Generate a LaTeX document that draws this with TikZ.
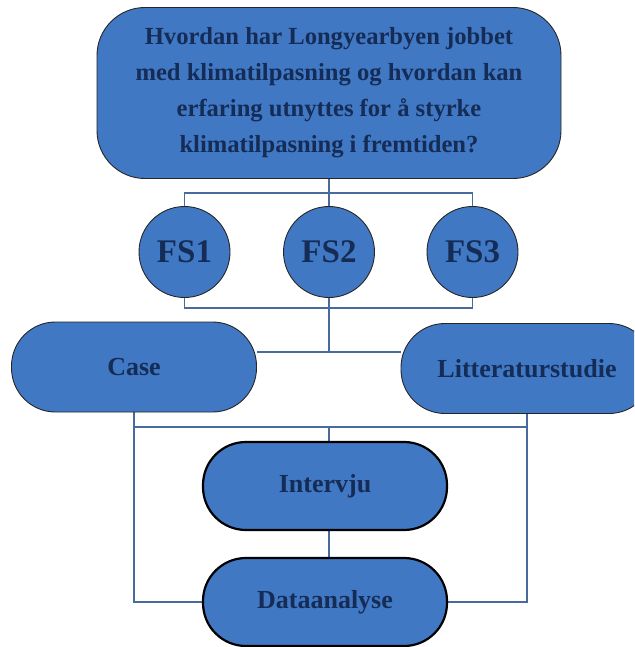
\documentclass[tikz,border=0pt]{standalone}
\usepackage{fontspec}
\setmainfont{Liberation Serif}
\usepackage{xcolor}
\pgfdeclarelayer{bg}
\pgfsetlayers{bg,main}
\definecolor{boxfill}{RGB}{65,120,196}
\definecolor{boxtext}{RGB}{20,44,86}
\definecolor{linkcol}{RGB}{72,106,156}

\begin{document}
\begin{tikzpicture}[x=1pt, y=-1pt,
		box/.style={draw=black!85, line width=0.9pt, fill=boxfill, text=boxtext, inner sep=0pt, align=center, font=\bfseries\fontsize{26}{30}\selectfont},
		pill/.style={box, rounded corners=44pt, minimum width=245pt, minimum height=90pt},
		boldpill/.style={pill, draw=black, line width=2.2pt, rounded corners=43pt, minimum width=244pt, minimum height=88pt},
		fs/.style={box, circle, minimum size=91pt, font=\bfseries\fontsize{33}{36}\selectfont},
		link/.style={draw=linkcol, line width=1.3pt}]
		\useasboundingbox (0,0) rectangle (634,647);
		\clip (0,0) rectangle (634,647);

		% question
		\node[box, rounded corners=48pt, minimum width=464pt, minimum height=171pt, font=\bfseries\fontsize{24.6}{36}\selectfont] (q) at (329,93)
			{Hvordan har Longyearbyen jobbet\\med klimatilpasning og hvordan kan\\erfaring utnyttes for å styrke\\klimatilpasning i fremtiden?};

		% research questions
		\node[fs] (fs1) at (184.5,252) {FS1};
		\node[fs] (fs2) at (329,252) {FS2};
		\node[fs] (fs3) at (472.5,252) {FS3};

		% method
		\node[pill] (case) at (134,367) {Case};
		\node[pill, minimum width=252pt] (litt) at (527,368.5) {Litteraturstudie};
		\node[boldpill] (intervju) at (325,486) {Intervju};
		\node[boldpill] (analyse) at (325,602) {Dataanalyse};

		\coordinate (qsplit) at (329,193);
		\coordinate (fssplit) at (329,308);
		\coordinate (fork) at (329,352);
		\coordinate (join) at (329,427);

		\begin{pgfonlayer}{bg}
			\draw[link] (q.south) -- (qsplit);
			\draw[link] (fs1.north) |- (qsplit) -| (fs3.north);
			\draw[link] (qsplit) -- (fs2.north);
			\draw[link] (fs1.south) |- (fssplit) -| (fs3.south);
			\draw[link] (fs2.south) -- (fork);
			\draw[link] (case.east |- fork) -- (litt.west |- fork);
			\draw[link] (case.south) |- (join) -| (litt.south);
			\draw[link] (join) -- (join |- intervju.north);
			\draw[link] (join |- intervju.south) -- (join |- analyse.north);
			\draw[link] (case.south) |- (analyse.west);
			\draw[link] (litt.south) |- (analyse.east);
		\end{pgfonlayer}
	\end{tikzpicture}
\end{document}
